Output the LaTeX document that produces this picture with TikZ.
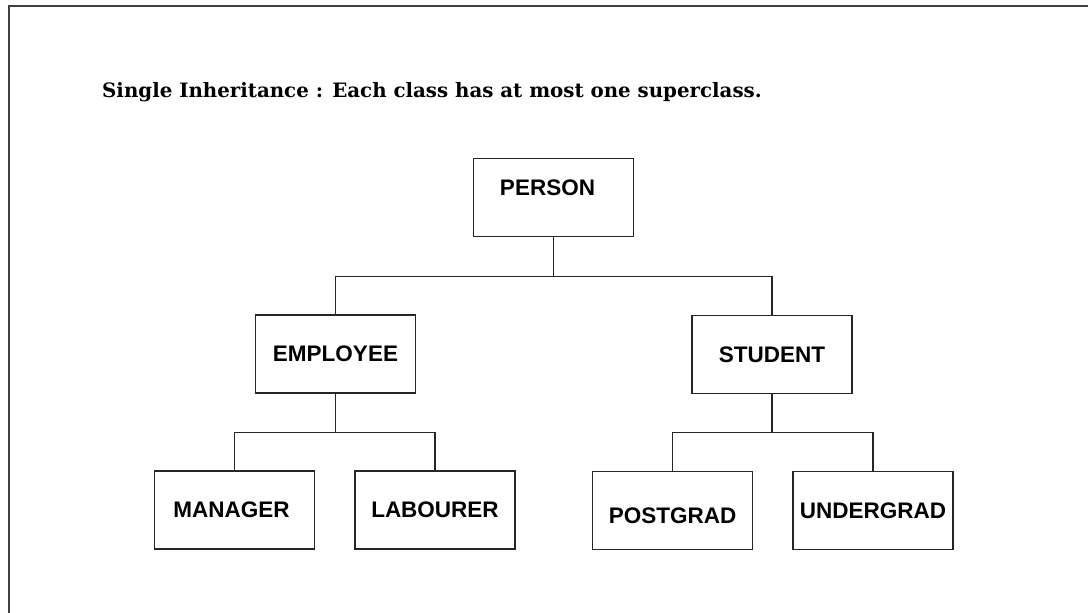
\documentclass[tikz,border=0pt]{standalone}
\usepackage{fontspec}
\setmainfont{DejaVu Serif}
\setsansfont{Liberation Sans}
\begin{document}
\begin{tikzpicture}[x=1pt,y=-1pt,
  classbox/.style={draw=black!85, line width=1.4pt, minimum width=160pt, minimum height=78pt,
    inner sep=0pt, font=\fontsize{22.5}{22.5}\selectfont\sffamily\bfseries},
  link/.style={draw=black!85, line width=1.2pt},
  frameline/.style={draw=black!75, line width=2.4pt}]
\useasboundingbox (0,0) rectangle (1088,613);
% page frame (top and left edges)
\coordinate (fbl) at (9,613);
\coordinate (ftl) at (9,6);
\coordinate (ftr) at (1088,6);
\draw[frameline] (fbl) -- (ftl) -- (ftr);
% heading
\node[anchor=base west, inner sep=0pt, font=\fontsize{19.8}{19.8}\selectfont\bfseries] (title) at (102,97)
  {Single Inheritance : Each class has at most one superclass.};
% class hierarchy
\node[classbox, text depth=20pt] (person) at (553.5,197.5) {PERSON\hspace*{12pt}};
\node[classbox] (employee) at (335.5,354) {EMPLOYEE};
\node[classbox] (student) at (772,354.5) {STUDENT};
\node[classbox] (manager) at (234.5,510) {MANAGER\hspace*{6pt}};
\node[classbox] (labourer) at (435,510) {LABOURER};
\node[classbox, text height=26pt] (postgrad) at (672.5,510.5) {POSTGRAD};
\node[classbox] (undergrad) at (873,510.5) {UNDERGRAD};
% connectors
\draw[link] (person.south) -- ++(0,39) coordinate (pj);
\draw[link] (employee.north) |- (pj) -| (student.north);
\draw[link] (employee.south) -- ++(0,39) coordinate (ej);
\draw[link] (manager.north) |- (ej) -| (labourer.north);
\draw[link] (student.south) -- ++(0,38) coordinate (sj);
\draw[link] (postgrad.north) |- (sj) -| (undergrad.north);
\end{tikzpicture}
\end{document}
